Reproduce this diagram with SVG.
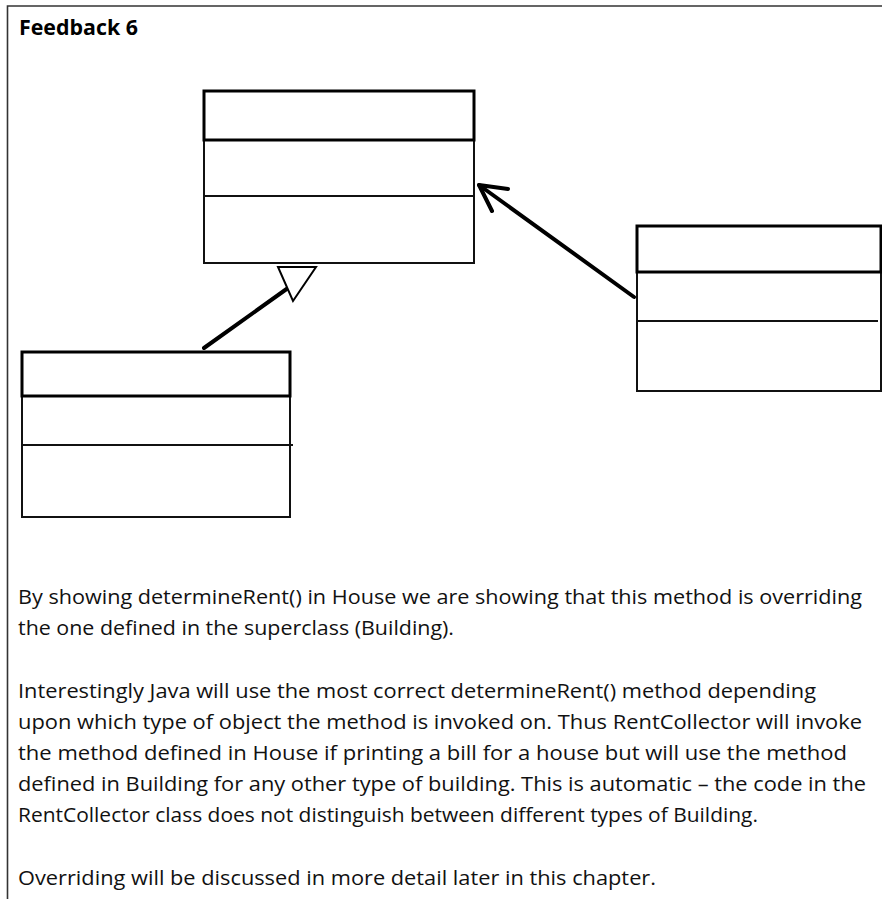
<svg xmlns="http://www.w3.org/2000/svg" width="882" height="899" viewBox="0 0 882 899">
  <style>
    .frame { fill: none; stroke: #333; stroke-width: 1.6; }
    .box { fill: #fff; stroke: #111; stroke-width: 2; }
    .head { fill: none; stroke: #000; stroke-width: 3; }
    .div { stroke: #111; stroke-width: 2; fill: none; }
    .conn { stroke: #000; stroke-width: 4; fill: none; stroke-linecap: round; stroke-linejoin: round; }
    .tri { fill: #fff; stroke: #000; stroke-width: 2; stroke-linejoin: miter; }
    .title { font-family: "Open Sans", "Noto Sans", sans-serif; font-weight: bold; font-size: 21px; fill: #000; }
    .body { font-family: "Open Sans", "Noto Sans", sans-serif; font-size: 20px; fill: #111; }
  </style>
  <rect width="882" height="899" fill="#fff"/>
  <path class="frame" d="M882,6 H7.5 V899"/>
  <text class="title" x="19" y="35" textLength="119" lengthAdjust="spacingAndGlyphs">Feedback 6</text>

  <g id="building">
    <rect class="box" x="204" y="91" width="270" height="172"/>
    <rect class="head" x="204" y="91" width="270" height="49"/>
    <line class="div" x1="204" y1="196" x2="474" y2="196"/>
  </g>

  <g id="house">
    <rect class="box" x="22" y="352" width="268" height="165"/>
    <rect class="head" x="22" y="352" width="268" height="44"/>
    <line class="div" x1="22" y1="445" x2="293" y2="445"/>
  </g>

  <g id="rentcollector">
    <rect class="box" x="637" y="226" width="244" height="165"/>
    <rect class="head" x="637" y="226" width="244" height="46"/>
    <line class="div" x1="637" y1="321" x2="878" y2="321"/>
  </g>

  <g id="connectors">
    <line class="conn" x1="204" y1="348" x2="288" y2="288"/>
    <polygon class="tri" points="278,267 316,267 293,301"/>
    <line class="conn" x1="634" y1="297" x2="479" y2="185"/>
    <polyline class="conn" points="508,189 479,185 492,211"/>
  </g>

  <g id="notes">
    <text class="body" x="18" y="604" textLength="844" lengthAdjust="spacingAndGlyphs">By showing determineRent() in House we are showing that this method is overriding</text>
    <text class="body" x="18" y="635" textLength="436" lengthAdjust="spacingAndGlyphs">the one defined in the superclass (Building).</text>
    <text class="body" x="18" y="698" textLength="798" lengthAdjust="spacingAndGlyphs">Interestingly Java will use the most correct determineRent() method depending</text>
    <text class="body" x="18" y="729" textLength="844" lengthAdjust="spacingAndGlyphs">upon which type of object the method is invoked on. Thus RentCollector will invoke</text>
    <text class="body" x="18" y="760" textLength="829" lengthAdjust="spacingAndGlyphs">the method defined in House if printing a bill for a house but will use the method</text>
    <text class="body" x="18" y="791" textLength="848" lengthAdjust="spacingAndGlyphs">defined in Building for any other type of building. This is automatic – the code in the</text>
    <text class="body" x="18" y="822" textLength="740" lengthAdjust="spacingAndGlyphs">RentCollector class does not distinguish between different types of Building.</text>
    <text class="body" x="18" y="885" textLength="638" lengthAdjust="spacingAndGlyphs">Overriding will be discussed in more detail later in this chapter.</text>
  </g>
</svg>
